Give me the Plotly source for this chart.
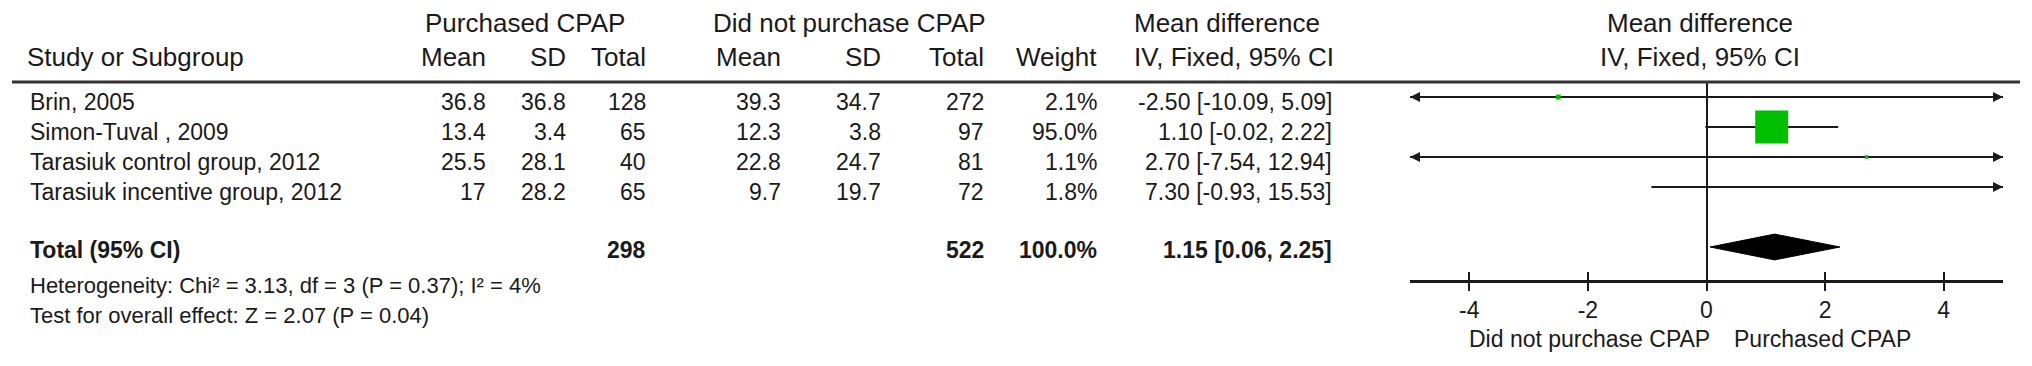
import math
import plotly.graph_objects as go

W, H = 2032, 366

# ---------------- data ----------------
studies = ["Brin, 2005", "Simon-Tuval , 2009", "Tarasiuk control group, 2012",
           "Tarasiuk incentive group, 2012"]
p_mean = ["36.8", "13.4", "25.5", "17"]
p_sd = ["36.8", "3.4", "28.1", "28.2"]
p_total = [128, 65, 40, 65]
c_mean = ["39.3", "12.3", "22.8", "9.7"]
c_sd = ["34.7", "3.8", "24.7", "19.7"]
c_total = [272, 97, 81, 72]
weights = [2.1, 95.0, 1.1, 1.8]
md = [-2.50, 1.10, 2.70, 7.30]
ci_lo = [-10.09, -0.02, -7.54, -0.93]
ci_hi = [5.09, 2.22, 12.94, 15.53]

total_label = "Total (95% CI)"
total_p = 298
total_c = 522
total_weight = 100.0
total_md = 1.15
total_lo = 0.06
total_hi = 2.25

heterogeneity = "Heterogeneity: Chi\u00b2 = 3.13, df = 3 (P = 0.37); I\u00b2 = 4%"
overall = "Test for overall effect: Z = 2.07 (P = 0.04)"

x_ticks = [-4, -2, 0, 2, 4]
x_range = [-5, 5]
favours = ["Did not purchase CPAP", "Purchased CPAP"]
group_headers = ["Purchased CPAP", "Did not purchase CPAP", "Mean difference"]
col_headers = ["Mean", "SD", "Total", "Mean", "SD", "Total", "Weight", "IV, Fixed, 95% CI"]

# ---------------- style ----------------
FONT = "Liberation Sans, Arial, Helvetica, sans-serif"
TXT = "#1a1a1a"
GREEN = "rgb(0,190,0)"
LINE = "#1a1a1a"

def fx(px):
    return px / W

def fy(py):
    return 1 - py / H

n = len(studies)
total_row = n + 1

fig = go.Figure()

# CI lines + arrows
for i in range(n):
    lo = max(ci_lo[i], x_range[0])
    hi = min(ci_hi[i], x_range[1])
    fig.add_trace(go.Scatter(x=[lo, hi], y=[i, i], mode="lines",
                             line=dict(color=LINE, width=2.2),
                             hoverinfo="skip", showlegend=False, cliponaxis=False))
    if ci_lo[i] < x_range[0]:
        fig.add_trace(go.Scatter(x=[x_range[0]], y=[i], mode="markers",
                                 marker=dict(symbol="arrow-left", size=10, color=LINE),
                                 hoverinfo="skip", showlegend=False, cliponaxis=False))
    if ci_hi[i] > x_range[1]:
        fig.add_trace(go.Scatter(x=[x_range[1]], y=[i], mode="markers",
                                 marker=dict(symbol="arrow-right", size=10, color=LINE),
                                 hoverinfo="skip", showlegend=False, cliponaxis=False))

# squares sized by weight
sizes = [33 * math.sqrt(w / 95.0) for w in weights]
fig.add_trace(go.Scatter(x=md, y=list(range(n)), mode="markers",
                         marker=dict(symbol="square", size=sizes, color=GREEN,
                                     opacity=1, line=dict(width=0)),
                         hoverinfo="skip", showlegend=False, cliponaxis=False))

# diamond for total
dh = 0.43
fig.add_trace(go.Scatter(
    x=[total_lo, total_md, total_hi, total_md, total_lo],
    y=[total_row, total_row - dh, total_row, total_row + dh, total_row],
    mode="lines", fill="toself", fillcolor="black",
    line=dict(color="black", width=1), hoverinfo="skip", showlegend=False))

# inside-ticks overlay axis trace (invisible)
fig.add_trace(go.Scatter(x=[0], y=[0], xaxis="x2", yaxis="y", mode="markers",
                         marker=dict(opacity=0), hoverinfo="skip", showlegend=False))

dom_x = [fx(1410), fx(2003)]
dom_y = [fy(280), fy(82)]

fig.update_layout(
    width=W, height=H, margin=dict(l=0, r=0, t=0, b=0),
    paper_bgcolor="white", plot_bgcolor="white",
    font=dict(family=FONT, color=TXT, size=23),
    xaxis=dict(domain=dom_x, range=x_range, tickvals=x_ticks,
               ticktext=[str(t) for t in x_ticks],
               showgrid=False, zeroline=True, zerolinecolor=LINE, zerolinewidth=2,
               showline=True, linecolor=LINE, linewidth=2.5,
               ticks="outside", ticklen=8, tickwidth=2, tickcolor=LINE,
               tickfont=dict(size=23, color=TXT, family=FONT),
               fixedrange=True, anchor="y"),
    xaxis2=dict(domain=dom_x, range=x_range, tickvals=x_ticks, overlaying="x",
                matches="x", showticklabels=False, showgrid=False, zeroline=False,
                showline=False, ticks="inside", ticklen=8, tickwidth=2,
                tickcolor=LINE, anchor="y", side="bottom"),
    yaxis=dict(domain=dom_y, range=[6.1, -0.5], visible=False,
               showgrid=False, zeroline=False, fixedrange=True),
)

annotations = []

def ann(text, x, y, xanchor="right", size=23, bold=False, yref="paper", yshift=0):
    if bold:
        text = "<b>" + text + "</b>"
    annotations.append(dict(text=text, x=x, y=y, xref="paper", yref=yref,
                            xanchor=xanchor, yanchor="middle", showarrow=False,
                            yshift=yshift,
                            font=dict(size=size, color=TXT, family=FONT)))

# header line
fig.add_shape(type="line", xref="paper", yref="paper", x0=fx(12), x1=fx(2020),
              y0=fy(82), y1=fy(82), line=dict(color="#333333", width=3))

HS = 26
# group headers
ann(group_headers[0], fx(525), fy(23), "center", HS)
ann(group_headers[1], fx(849), fy(23), "center", HS)
ann(group_headers[2], fx(1132), fy(23), "left", HS)
ann(group_headers[2], fx(1700), fy(23), "center", HS)
# column headers
ann("Study or Subgroup", fx(25), fy(57), "left", HS)
col_right = [488, 568, 648, 783, 883, 986, 1099]
for h, xr in zip(col_headers[:7], col_right):
    ann(h, fx(xr), fy(57), "right", HS)
ann(col_headers[7], fx(1132), fy(57), "left", HS)
ann(col_headers[7], fx(1700), fy(57), "center", HS)

# study rows
for i in range(n):
    ys = -5
    ann(studies[i], fx(28), i, "left", yref="y", yshift=ys)
    vals = [p_mean[i], p_sd[i], str(p_total[i]), c_mean[i], c_sd[i], str(c_total[i]),
            f"{weights[i]:.1f}%", f"{md[i]:.2f} [{ci_lo[i]:.2f}, {ci_hi[i]:.2f}]"]
    for v, xr in zip(vals, col_right + [1334]):
        ann(v, fx(xr), i, "right", yref="y", yshift=ys)

# total row
ann(total_label, fx(28), total_row, "left", bold=True, yref="y", yshift=-3)
ann(str(total_p), fx(648), total_row, "right", bold=True, yref="y", yshift=-3)
ann(str(total_c), fx(986), total_row, "right", bold=True, yref="y", yshift=-3)
ann(f"{total_weight:.1f}%", fx(1099), total_row, "right", bold=True, yref="y", yshift=-3)
ann(f"{total_md:.2f} [{total_lo:.2f}, {total_hi:.2f}]", fx(1334), total_row, "right",
    bold=True, yref="y", yshift=-3)

ann(heterogeneity, fx(28), fy(285), "left", 22)
ann(overall, fx(28), fy(315), "left", 22)

# favours labels
ann(favours[0], fx(1712), fy(339), "right", 23)
ann(favours[1], fx(1732), fy(339), "left", 23)

fig.update_layout(annotations=annotations)

fig.write_html("out.html", config={"displayModeBar": False},
               post_script="document.body.style.margin='0';")
